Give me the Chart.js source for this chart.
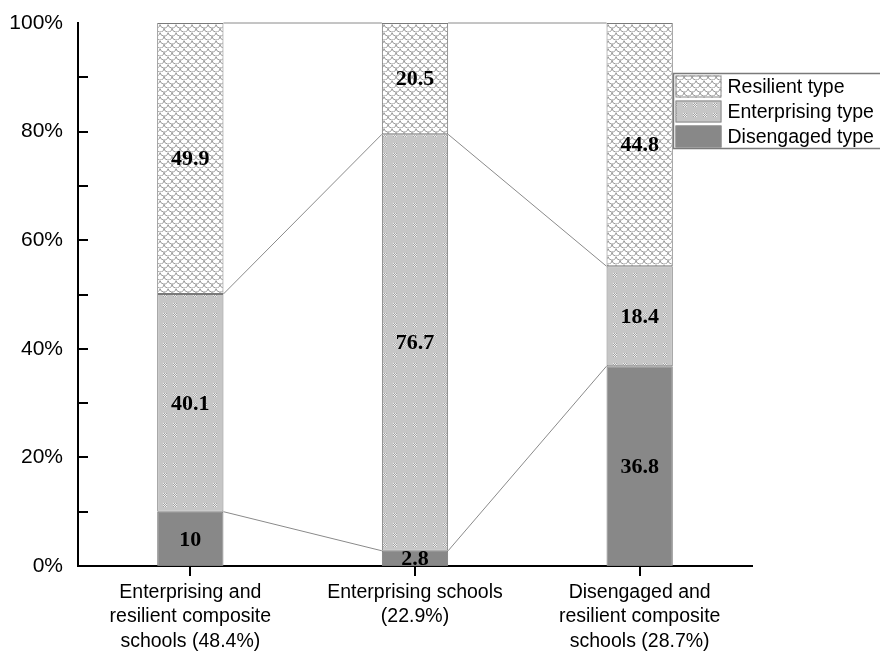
<!DOCTYPE html>
<html>
<head>
<meta charset="utf-8">
<script src="https://cdn.jsdelivr.net/npm/chart.js@4"></script>
<style>
  html, body { margin: 0; padding: 0; background: #fff; }
  #wrap { width: 880px; height: 653px; }
</style>
</head>
<body>
<div id="wrap"><canvas id="myChart" width="880" height="653"></canvas></div>
<script>
"use strict";

// Data
const schools = [
	["Enterprising and", "resilient composite", "schools (48.4%)"],
	["Enterprising schools", "(22.9%)"],
	["Disengaged and", "resilient composite", "schools (28.7%)"],
];
const seriesNames = ["Disengaged type", "Enterprising type", "Resilient type"];
const disengaged = [10, 2.8, 36.8];
const enterprising = [40.1, 76.7, 18.4];
const resilient = [49.9, 20.5, 44.8];

// Fill patterns, drawn on small tiles
function scalePattern() {
	const c = document.createElement("canvas");
	c.width = 8;
	c.height = 8;
	const g = c.getContext("2d");
	g.fillStyle = "#fff";
	g.fillRect(0, 0, 8, 8);
	g.strokeStyle = "#9a9a9a";
	g.lineWidth = 1;
	g.beginPath();
	g.arc(4, 0, 4, 0.1, Math.PI - 0.1);
	g.stroke();
	g.beginPath();
	g.arc(0, 4, 4, 0.1, Math.PI - 0.1);
	g.stroke();
	g.beginPath();
	g.arc(8, 4, 4, 0.1, Math.PI - 0.1);
	g.stroke();
	return g.createPattern(c, "repeat");
}

function dotPattern() {
	const c = document.createElement("canvas");
	c.width = 10;
	c.height = 10;
	const g = c.getContext("2d");
	g.fillStyle = "#c6c6c6";
	g.fillRect(0, 0, 10, 10);
	for (let i = 0; i < 4; i++) {
		for (let j = 0; j < 4; j++) {
			g.fillStyle = (i + j) % 2 === 0 ? "#f2f2f2" : "#a0a0a0";
			g.fillRect(3 + i, 3 + j, 1, 1);
		}
	}
	return g.createPattern(c, "repeat");
}

const fills = ["#888888", dotPattern(), scalePattern()];

// Lines joining the stack boundaries of neighbouring bars, inward y ticks, value labels, legend
const extras = {
	id: "extras",
	beforeDatasetsDraw(chart) {
		const ctx = chart.ctx;
		ctx.save();
		ctx.strokeStyle = "#8a8a8a";
		ctx.lineWidth = 1;
		chart.data.datasets.forEach(function (ds, d) {
			const bars = chart.getDatasetMeta(d).data;
			for (let i = 0; i < bars.length - 1; i++) {
				const a = bars[i];
				const b = bars[i + 1];
				ctx.beginPath();
				ctx.moveTo(a.x + a.width / 2, a.y);
				ctx.lineTo(b.x - b.width / 2, b.y);
				ctx.stroke();
			}
		});
		ctx.restore();
	},
	afterDatasetsDraw(chart) {
		const ctx = chart.ctx;
		const y = chart.scales.y;
		const area = chart.chartArea;
		ctx.save();

		// inward ticks on the y axis
		ctx.strokeStyle = "#000";
		ctx.lineWidth = 2;
		for (let v = 10; v < 100; v += 10) {
			const py = Math.round(y.getPixelForValue(v));
			ctx.beginPath();
			ctx.moveTo(area.left, py);
			ctx.lineTo(area.left + 10, py);
			ctx.stroke();
		}

		// values in the segments
		ctx.font = "bold 22px 'Liberation Serif', 'Times New Roman', serif";
		ctx.fillStyle = "#000";
		ctx.textAlign = "center";
		ctx.textBaseline = "middle";
		chart.data.datasets.forEach(function (ds, d) {
			chart.getDatasetMeta(d).data.forEach(function (bar, i) {
				ctx.fillText(String(ds.data[i]), bar.x, (bar.y + bar.base) / 2 + 1);
			});
		});

		// legend
		const lx = 673.5, ly = 73.5;
		ctx.strokeStyle = "#7a7a7a";
		ctx.lineWidth = 1.5;
		ctx.strokeRect(lx, ly, 240, 75);
		ctx.font = "19.5px 'Liberation Sans', Arial, sans-serif";
		ctx.textAlign = "left";
		const order = [2, 1, 0];
		order.forEach(function (d, k) {
			const sy = ly + 2 + k * 25;
			ctx.fillStyle = fills[d];
			ctx.fillRect(lx + 2, sy, 46, 22);
			ctx.strokeStyle = "#8a8a8a";
			ctx.lineWidth = 1;
			ctx.strokeRect(lx + 2.5, sy + 0.5, 45, 21);
			ctx.fillStyle = "#000";
			ctx.fillText(chart.data.datasets[d].label, lx + 54, sy + 12);
		});
		ctx.restore();
	},
};

new Chart(document.getElementById("myChart"), {
	type: "bar",
	data: {
		labels: schools,
		datasets: [
			{ label: seriesNames[0], data: disengaged },
			{ label: seriesNames[1], data: enterprising },
			{ label: seriesNames[2], data: resilient },
		].map(function (ds, d) {
			return Object.assign(ds, {
				backgroundColor: fills[d],
				borderColor: "#7a7a7a",
				borderWidth: 1,
				borderSkipped: false,
				categoryPercentage: 1,
				barPercentage: 0.295,
			});
		}),
	},
	options: {
		responsive: false,
		animation: false,
		devicePixelRatio: 1,
		layout: { padding: { top: 23, right: 128, left: 0, bottom: 0 } },
		plugins: {
			legend: { display: false },
			tooltip: { enabled: false },
		},
		scales: {
			x: {
				stacked: true,
				border: { display: true, color: "#000", width: 2 },
				grid: {
					display: true,
					drawOnChartArea: false,
					drawTicks: true,
					tickLength: 10,
					offset: false,
					color: "#000",
					lineWidth: 2,
				},
				ticks: {
					color: "#000",
					font: { family: "'Liberation Sans', Arial, sans-serif", size: 19.5, lineHeight: 1.26 },
					maxRotation: 0,
					minRotation: 0,
					autoSkip: false,
					padding: 4,
				},
				afterFit(scale) {
					scale.height = 87;
				},
			},
			y: {
				stacked: true,
				min: 0,
				max: 100,
				border: { display: true, color: "#000", width: 2 },
				grid: { display: false },
				ticks: {
					stepSize: 20,
					color: "#000",
					padding: 7,
					font: { family: "'Liberation Sans', Arial, sans-serif", size: 21 },
					callback: function (v) {
						return v + "%";
					},
				},
				afterFit(scale) {
					scale.width = 78;
				},
			},
		},
	},
	plugins: [extras],
});
</script>
</body>
</html>
